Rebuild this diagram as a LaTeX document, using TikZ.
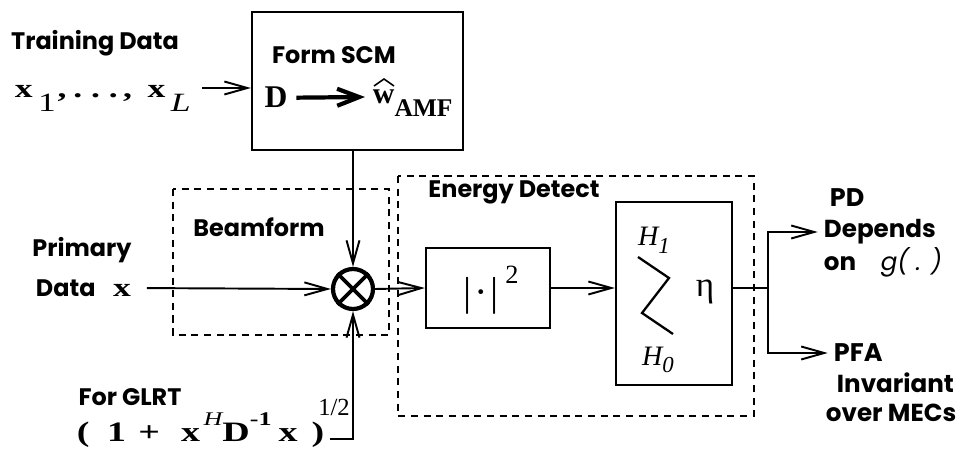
\documentclass[tikz,border=0pt]{standalone}
\usepackage{fontspec}
\setmainfont{Poppins}
\newfontfamily\tms{Liberation Serif}
\newfontfamily\tmw[FakeStretch=1.35]{Liberation Serif}
\usetikzlibrary{positioning,calc,arrows.meta}

\begin{document}
\begin{tikzpicture}[x=0.02cm,y=-0.02cm,line width=1.1pt]
	\tikzstyle{blk}=[draw,rectangle,inner sep=0pt,line width=1.3pt]
	\tikzstyle{grp}=[line width=1.3pt,dash pattern=on 4pt off 3.2pt]
	\tikzstyle{lbl}=[inner sep=0pt,font=\bfseries\fontsize{13.6}{15}\selectfont]
	\tikzstyle{sml}=[inner sep=0pt,font=\bfseries\fontsize{14}{15}\selectfont]
	\tikzstyle{mth}=[inner sep=0pt,font=\tmw\bfseries\fontsize{15}{16}\selectfont]
	\tikzstyle{sig}=[-{Straight Barb[length=4.6mm,width=2.6mm]}]
	\useasboundingbox (0,0) rectangle (964,449);

	% dashed groups
	\draw[grp] (173,189) rectangle (389,335);
	\draw[grp] (398,176) rectangle (754,416);
	\node[lbl] (bf) at (259,227) {Beamform};
	\node[lbl] (ed) at (514,192) {Energy Detect};

	% training data and SCM
	\node[lbl] (train) at (95,43) {Training Data};
	\node[mth,anchor=base west] (tx) at (14,98)
		{x\hspace{3pt}\raisebox{-1.1ex}{\mdseries 1}\hspace{1pt},\hspace{4pt}.\hspace{5pt}.\hspace{5pt}.\hspace{3pt},\hspace{9pt}x\hspace{3pt}\raisebox{-1.1ex}{\mdseries\itshape L}};
	\node[blk,minimum width=4.22cm,minimum height=2.76cm] (scm) at (357.5,81) {};
	\node[lbl] (form) at (334,55) {Form SCM};
	\node[inner sep=0pt,font=\tms\bfseries\fontsize{18}{18}\selectfont,anchor=base] (scmD) at (276,108) {D};
	\node[inner sep=0pt,font=\tms\bfseries\fontsize{17}{17}\selectfont,anchor=base west] (scmW) at (372,104)
		{w\raisebox{-0.9ex}{\fontsize{14.5}{14}\selectfont AMF}};
	\draw[line width=0.9pt] (374,86) -- (384,79) -- (394,86);
	\draw[line width=2.4pt,-{Straight Barb[length=4.4mm,width=3.4mm]}] (scmD.east) ++(8,0) -- (365,97);
	\draw[sig] (202,88) -- (scm.west |- 0,88);

	% beamformer
	\node[draw,circle,line width=2.4pt,minimum size=0.8cm,inner sep=0pt] (mult) at (353,289) {};
	\draw[line width=2.2pt] (mult.45) -- (mult.225) (mult.135) -- (mult.315);
	\draw[sig] (scm.south -| mult) -- (mult.north);
	\node[lbl] (prim) at (82,250) {Primary};
	\node[lbl,anchor=west] (pdata) at (35,288) {Data\hspace{10pt}{\tmw\fontsize{15}{16}\selectfont x}};
	\draw[sig,shorten <=0.3cm] (pdata.east) -- (mult.west);

	\node[lbl] (glrt) at (130,397) {For GLRT};
	\node[inner sep=0pt,font=\tmw\bfseries\fontsize{16}{18}\selectfont,anchor=west] (expr) at (76,430)
		{(\hspace{10pt}1\hspace{7pt}+\hspace{12pt}x\hspace{2pt}\raisebox{1.2ex}{\mdseries\itshape\fontsize{11}{11}\selectfont H}D\raisebox{1.2ex}{\fontsize{11}{11}\selectfont -1}\hspace{4pt}x\hspace{8pt})};
	\node[inner sep=0pt,font=\tms\fontsize{14}{14}\selectfont] (half) at (334,407) {1/2};
	\coordinate (gl) at (330,439);
	\draw[sig] (gl) -| (mult.south);

	% energy detector
	\node[blk,minimum width=2.48cm,minimum height=1.6cm] (sq) at (488,288) {};
	\node[inner sep=0pt,font=\tms\fontsize{23}{23}\selectfont] (sqtxt) at (491,290)
		{|\kern1.5pt·\kern1.5pt|\raisebox{1.2ex}{\fontsize{15}{15}\selectfont\hspace{4pt}2}};
	\node[blk,minimum width=2.32cm,minimum height=3.66cm] (thr) at (674,293.5) {};
	\draw[line width=1.3pt] (638,257) -- (669,278) -- (642,313) -- (673,334);
	\node[inner sep=0pt,font=\tms\itshape\fontsize{16}{16}\selectfont] (h1) at (654,240) {H\raisebox{-0.6ex}{\fontsize{13}{13}\selectfont 1}};
	\node[inner sep=0pt,font=\tms\itshape\fontsize{16}{16}\selectfont] (h0) at (658,360) {H\raisebox{-0.6ex}{\fontsize{13}{13}\selectfont 0}};
	\node[inner sep=0pt,font=\tms\fontsize{20}{20}\selectfont] (eta) at (705,292) {η};
	\draw[sig] (mult.east) -- (sq.west);
	\draw[sig] (sq.east) -- (thr.west |- sq.east);

	% outputs
	\node[lbl,font=\bfseries\fontsize{14.5}{15}\selectfont,anchor=west] (pd) at (829,198) {PD};
	\node[sml,anchor=west] (dep) at (823,232) {Depends};
	\node[sml,anchor=west] (on) at (823,262) {on\hspace{14pt}{\mdseries\itshape g( . )}};
	\node[lbl,font=\bfseries\fontsize{14.5}{15}\selectfont,anchor=west] (pfa) at (833,353) {PFA};
	\node[sml,anchor=west] (inv) at (836,383) {Invariant};
	\node[sml,anchor=west] (mec) at (825,413) {over MECs};
	\coordinate (split) at (768,288);
	\draw (thr.east |- split) -- (split);
	\foreach \o in {dep,pfa}
		\draw[sig,shorten >=3pt] (split) |- (\o.west);
\end{tikzpicture}
\end{document}
